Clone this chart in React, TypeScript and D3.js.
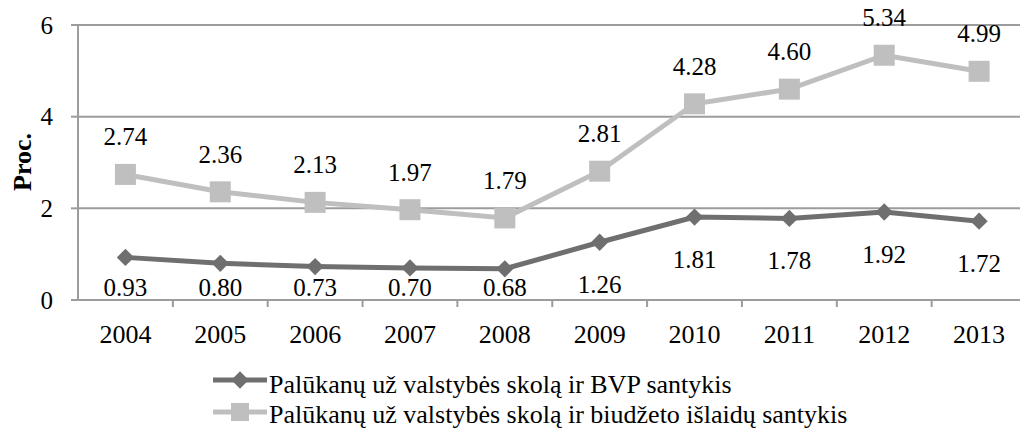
import React from 'react';
import * as d3 from 'd3';

const years = ['2004', '2005', '2006', '2007', '2008', '2009', '2010', '2011', '2012', '2013'];
const gdpRatio = [0.93, 0.8, 0.73, 0.7, 0.68, 1.26, 1.81, 1.78, 1.92, 1.72];
const budgetRatio = [2.74, 2.36, 2.13, 1.97, 1.79, 2.81, 4.28, 4.6, 5.34, 4.99];
const yTicks = [0, 2, 4, 6];
const seriesNames = [
  'Palūkanų už valstybės skolą ir BVP santykis',
  'Palūkanų už valstybės skolą ir biudžeto išlaidų santykis',
];

const W = 1020;
const H = 429;
const left = 78;
const right = 1026.5;
const top = 25;
const bottom = 300;

const darkCol = '#6f6f6f';
const lightCol = '#bfbfbf';
const gridCol = '#9c9c9c';
const font = "'Liberation Serif', 'Times New Roman', serif";

const App: React.FC = () => {
  const x = d3.scaleBand<string>().domain(years).range([left, right]);
  const y = d3.scaleLinear().domain([0, 6]).range([bottom, top]);
  const cx = (d: string) => (x(d) ?? 0) + x.bandwidth() / 2;

  const line = d3.line<number>()
    .x((_, i) => cx(years[i]))
    .y(d => y(d));

  const diamond = d3.symbol().type(d3.symbolDiamond2).size(190)();
  const square = (s: number) => `M${-s / 2},${-s / 2}h${s}v${s}h${-s}Z`;

  return (
    <svg width={W} height={H} style={{ display: 'block', position: 'absolute', left: 0, top: 0, fontFamily: font }}>
      <rect width={W} height={H} fill="#fff" />
      {/* gridlines */}
      {yTicks.filter(t => t > 0).map(t => (
        <line key={t} x1={left} x2={right} y1={y(t)} y2={y(t)} stroke={gridCol} strokeWidth={2} />
      ))}
      {/* axes */}
      <line x1={left} x2={left} y1={top - 1} y2={bottom} stroke={gridCol} strokeWidth={2} />
      <line x1={left - 7} x2={right} y1={bottom} y2={bottom} stroke={gridCol} strokeWidth={2} />
      {yTicks.map(t => (
        <g key={t}>
          <line x1={left - 7} x2={left} y1={y(t)} y2={y(t)} stroke={gridCol} strokeWidth={2} />
          <text x={53} y={y(t)} dy="0.35em" textAnchor="end" fontSize={25}>{t}</text>
        </g>
      ))}
      {years.map(d => (
        <g key={d}>
          <line x1={(x(d) ?? 0) + x.bandwidth()} x2={(x(d) ?? 0) + x.bandwidth()} y1={bottom} y2={bottom + 7} stroke={gridCol} strokeWidth={2} />
          <text x={cx(d)} y={343} textAnchor="middle" fontSize={26}>{d}</text>
        </g>
      ))}
      <text transform="translate(31,162) rotate(-90)" textAnchor="middle" fontSize={26} fontWeight="bold">Proc.</text>

      {/* light series */}
      <path d={line(budgetRatio) ?? ''} fill="none" stroke={lightCol} strokeWidth={5} />
      {budgetRatio.map((v, i) => (
        <path key={i} d={square(21)} transform={`translate(${cx(years[i])},${y(v)})`} fill={lightCol} />
      ))}
      {/* dark series */}
      <path d={line(gdpRatio) ?? ''} fill="none" stroke={darkCol} strokeWidth={5} />
      {gdpRatio.map((v, i) => (
        <path key={i} d={diamond ?? ''} transform={`translate(${cx(years[i])},${y(v)})`} fill={darkCol} />
      ))}

      {/* labels */}
      {budgetRatio.map((v, i) => (
        <text key={i} x={cx(years[i])} y={y(v) - 29} textAnchor="middle" fontSize={25}>{v.toFixed(2)}</text>
      ))}
      {gdpRatio.map((v, i) => (
        <text key={i} x={cx(years[i])} y={Math.min(y(v) + 51, 296)} textAnchor="middle" fontSize={25}>{v.toFixed(2)}</text>
      ))}

      {/* legend */}
      {seriesNames.map((name, i) => {
        const ly = 380 + i * 32;
        const col = i === 0 ? darkCol : lightCol;
        return (
          <g key={name}>
            <line x1={213} x2={267} y1={ly} y2={ly} stroke={col} strokeWidth={5} />
            {i === 0
              ? <path d={diamond ?? ''} transform={`translate(240,${ly})`} fill={col} />
              : <path d={square(18)} transform={`translate(240,${ly})`} fill={col} />}
            <text x={269} y={393 + i * 30} fontSize={26}>{name}</text>
          </g>
        );
      })}
    </svg>
  );
};

export default App;
